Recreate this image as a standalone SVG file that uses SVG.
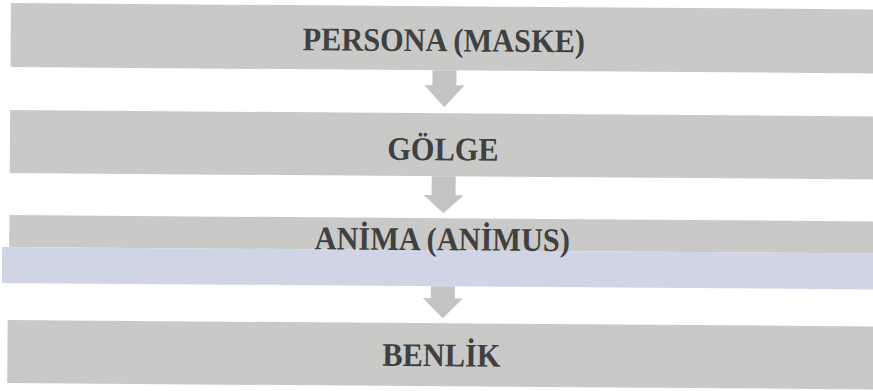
<svg xmlns="http://www.w3.org/2000/svg" width="873" height="391" viewBox="0 0 873 391">
<style>
.bar{fill:#c9c9c7}
.band{fill:#cfd5e5}
.arr{fill:#c3c3c3}
.lbl{font-family:"Liberation Serif","Times New Roman",serif;font-weight:bold;font-size:33px;fill:#404040;text-anchor:middle}
</style>
<rect width="873" height="391" fill="#ffffff"/>
<g transform="rotate(0.42)">
<g id="connectors">
<polygon class="arr" points="433,67 457,67 457,82 465,82 445,104 425,82 433,82"/>
<polygon class="arr" points="433,173 457,173 457,192 465,192 445,210 425,192 433,192"/>
<polygon class="arr" points="433,283 457,283 457,295 465,295 445,315 425,295 433,295"/>
</g>
<g id="persona"><rect class="bar" x="11" y="3" width="900" height="64"/><text class="lbl" transform="translate(444,48) scale(0.92,1)">PERSONA (MASKE)</text></g>
<g id="golge"><rect class="bar" x="11" y="110" width="900" height="63"/><text class="lbl" transform="translate(444,157) scale(0.92,1)">GÖLGE</text></g>
<g id="anima"><rect class="bar" x="11" y="215" width="900" height="32"/><rect class="band" x="4" y="247" width="900" height="36"/><text class="lbl" transform="translate(444,247) scale(0.92,1)">ANİMA (ANİMUS)</text></g>
<g id="benlik"><rect class="bar" x="10" y="320" width="900" height="63"/><text class="lbl" transform="translate(444,363) scale(0.92,1)">BENLİK</text></g>
</g>
</svg>
